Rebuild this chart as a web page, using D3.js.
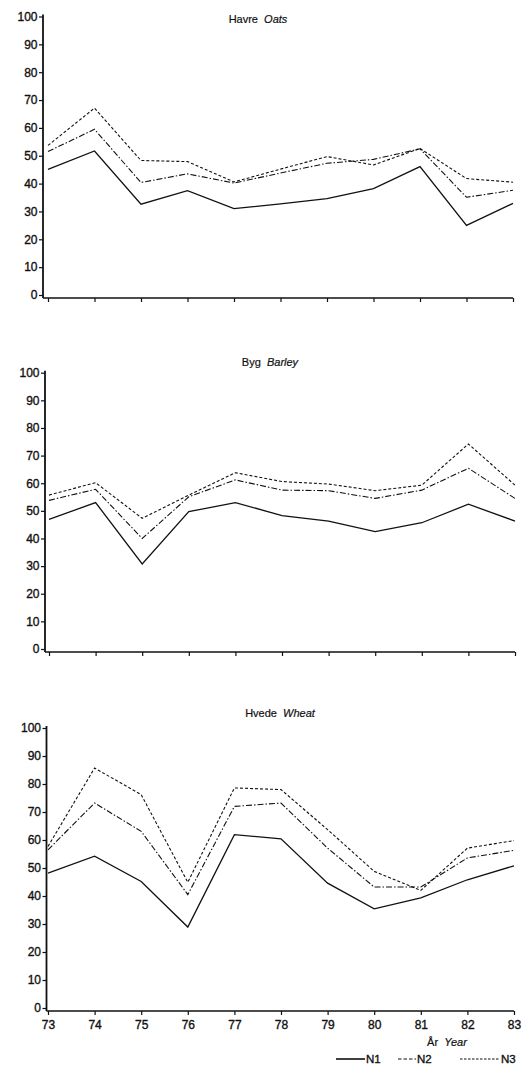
<!DOCTYPE html>
<html>
<head>
<meta charset="utf-8">
<script src="https://cdn.jsdelivr.net/npm/d3@7"></script>
<style>
  body { margin: 0; background: #fff; }
  svg { display: block; }
  text { font-family: "Liberation Sans", Arial, sans-serif; fill: #111; }
</style>
</head>
<body>
<script>
const years = [73, 74, 75, 76, 77, 78, 79, 80, 81, 82, 83];
const yTicks = [0, 10, 20, 30, 40, 50, 60, 70, 80, 90, 100];
const seriesNames = ['N1', 'N2', 'N3'];

const oatsN1 = [45.1, 51.7, 32.6, 37.5, 31.0, 32.7, 34.6, 38.2, 46.1, 25.0, 32.9];
const oatsN2 = [51.5, 59.5, 40.4, 43.5, 40.2, 43.8, 47.3, 48.7, 52.5, 35.1, 37.6];
const oatsN3 = [53.7, 67.1, 48.3, 47.9, 40.6, 45.2, 49.7, 46.7, 52.6, 41.8, 40.5];

const barleyN1 = [46.9, 53.0, 30.8, 49.7, 53.0, 48.3, 46.3, 42.5, 45.7, 52.4, 46.3];
const barleyN2 = [53.8, 57.8, 40.0, 55.1, 61.2, 57.5, 57.3, 54.5, 57.5, 65.4, 54.5];
const barleyN3 = [55.7, 60.2, 47.3, 55.7, 63.8, 60.6, 59.7, 57.3, 59.3, 74.2, 59.3];

const wheatN1 = [48.2, 54.2, 45.2, 28.9, 61.9, 60.4, 44.6, 35.4, 39.3, 45.8, 50.8];
const wheatN2 = [56.5, 73.2, 63.1, 40.5, 72.0, 73.2, 57.1, 43.2, 43.2, 53.6, 56.3];
const wheatN3 = [57.7, 85.7, 76.2, 44.9, 78.6, 78.0, 63.7, 48.8, 42.0, 57.1, 59.8];

const panels = [
    { da: 'Havre', en: 'Oats',   series: [oatsN1, oatsN2, oatsN3] },
    { da: 'Byg',   en: 'Barley', series: [barleyN1, barleyN2, barleyN3] },
    { da: 'Hvede', en: 'Wheat',  series: [wheatN1, wheatN2, wheatN3] }
];

// layout of each panel in the page (pixels)
const layout = [
    { axisX: 43,   x0: 48, x1: 513, y0: 295,  y1: 16.5, titleX: 258, titleY: 23 },
    { axisX: 45,   x0: 49, x1: 515, y0: 649,  y1: 372.7, titleX: 270, titleY: 366 },
    { axisX: 46.5, x0: 48, x1: 514, y0: 1008, y1: 728, titleX: 280, titleY: 717 }
];

const dashes = [null, '6,2,1.5,2', '3,2'];

const width = 522, height = 1067;

let svg = d3.select('body').append('svg')
    .attr('width', width)
    .attr('height', height);

let style_text = function (sel, size) {
    sel.attr('font-size', size)
        .attr('font-family', '"Liberation Sans", Arial, sans-serif')
        .attr('fill', '#111')
        .attr('stroke', '#111')
        .attr('stroke-width', 0.35);
};

panels.forEach((p, i) => {
    const L = layout[i];
    let g = svg.append('g').classed('panel', true);

    let x = d3.scaleLinear().domain([73, 83]).range([L.x0, L.x1]);
    let y = d3.scaleLinear().domain([0, 100]).range([L.y0, L.y1]);
    const baseY = L.y0 + 3;

    // y axis
    let yAxis = g.append('g')
        .attr('transform', `translate(${L.axisX},0)`)
        .call(d3.axisLeft(y).tickValues(yTicks).tickSize(4).tickPadding(1.5));
    yAxis.select('.domain').remove();
    yAxis.selectAll('.tick line').attr('stroke', '#111').attr('stroke-width', 1.2);
    style_text(yAxis.selectAll('.tick text'), 12);
    g.append('line')
        .attr('x1', L.axisX).attr('x2', L.axisX)
        .attr('y1', y(100) - 2).attr('y2', baseY)
        .attr('stroke', '#111').attr('stroke-width', 1.8);

    // x axis (labels only on the bottom panel)
    let xAxis = g.append('g')
        .attr('transform', `translate(0,${baseY})`)
        .call(d3.axisBottom(x).tickValues(years).tickSize(4).tickPadding(5)
            .tickFormat(d => i === 2 ? d : ''));
    xAxis.select('.domain').remove();
    xAxis.selectAll('.tick line').attr('stroke', '#111').attr('stroke-width', 1.2);
    style_text(xAxis.selectAll('.tick text'), 12);
    g.append('line')
        .attr('x1', L.axisX).attr('x2', L.x1)
        .attr('y1', baseY).attr('y2', baseY)
        .attr('stroke', '#111').attr('stroke-width', 1.4);

    // title
    let t = g.append('text')
        .attr('x', L.titleX).attr('y', L.titleY)
        .attr('text-anchor', 'middle');
    style_text(t, 11);
    t.attr('stroke-width', 0.2);
    t.append('tspan').text(p.da + '\u00a0\u00a0');
    t.append('tspan').attr('font-style', 'italic').text(p.en);

    // lines
    let line = d3.line()
        .x((d, j) => x(years[j]))
        .y(d => y(d));

    p.series.forEach((s, k) => {
        g.append('path')
            .datum(s)
            .attr('d', line)
            .attr('fill', 'none')
            .attr('stroke', '#111')
            .attr('stroke-width', k === 0 ? 1.3 : 1.1)
            .attr('stroke-dasharray', dashes[k]);
    });
});

// x axis title
let xt = svg.append('text')
    .attr('x', 447).attr('y', 1046)
    .attr('text-anchor', 'middle');
style_text(xt, 11);
xt.attr('stroke-width', 0.2);
xt.append('tspan').text('År\u00a0\u00a0');
xt.append('tspan').attr('font-style', 'italic').text('Year');

// legend
const legendX = [336, 398, 460];
const legendLen = [29, 18, 40];
const legendDash = [null, '3.5,2', '2.5,1.5'];
seriesNames.forEach((n, k) => {
    svg.append('line')
        .attr('x1', legendX[k]).attr('x2', legendX[k] + legendLen[k])
        .attr('y1', 1059).attr('y2', 1059)
        .attr('stroke', '#111')
        .attr('stroke-width', k === 0 ? 1.6 : 1.1)
        .attr('stroke-dasharray', legendDash[k]);
    let lt = svg.append('text')
        .attr('x', legendX[k] + legendLen[k] + 1).attr('y', 1063)
        .text(n);
    style_text(lt, 11.5);
});
</script>
</body>
</html>
